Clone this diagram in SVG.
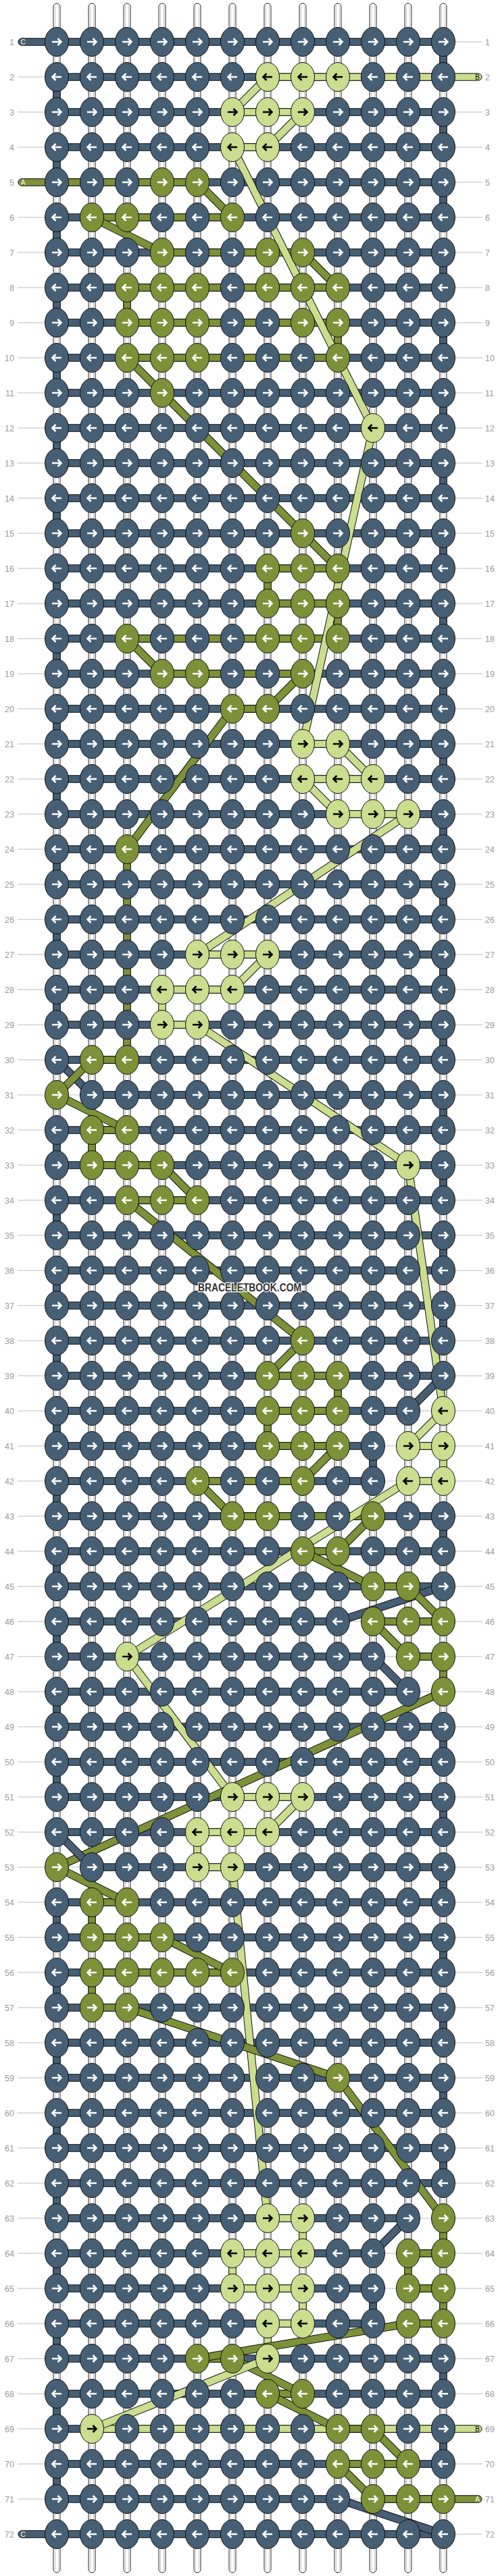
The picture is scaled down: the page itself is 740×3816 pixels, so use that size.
<svg xmlns="http://www.w3.org/2000/svg" xmlns:xlink="http://www.w3.org/1999/xlink" width="740" height="3816" viewBox="0 0 740 3816">
<style>
.gl{stroke:#bdbdbd;stroke-width:1;fill:none}
.lb{font-family:"Liberation Sans",Arial,sans-serif;font-size:12.5px;fill:#9a9a9a}
.le{text-anchor:end}
.cap{font-family:"Liberation Sans",Arial,sans-serif;font-size:10px;text-anchor:middle}
.wt{fill:#fff;stroke:#222;stroke-width:1}
.wi{stroke:#c4c4c4;stroke-width:1;fill:none}
.bd{fill:#465f75;stroke:#111;stroke-width:1}
.ba{fill:#7d9138;stroke:#111;stroke-width:1}
.bb{fill:#cbdd8e;stroke:#111;stroke-width:1}
.e{fill:#fff}
.o{stroke:#111;stroke-width:12;fill:none}
.cd{stroke:#465f75;stroke-width:10;fill:none}
.ca{stroke:#7d9138;stroke-width:10;fill:none}
.cb{stroke:#cbdd8e;stroke-width:10;fill:none}
.w{fill:none;stroke:#fff;stroke-width:2.6}
.k{fill:none;stroke:#000;stroke-width:2.6}
.wm{font-family:"Liberation Sans",Arial,sans-serif;font-weight:bold;font-size:16px;fill:#333;stroke:#fff;stroke-width:2.5;paint-order:stroke;text-anchor:middle}
</style>
<defs>
<rect id="bar" x="84" y="-5.25" width="572" height="10.5" class="bd"/>
<path id="arR" d="M-7,0H6M1.5,-5L6.5,0L1.5,5"/>
<path id="arL" d="M7,0H-6M-1.5,-5L-6.5,0L-1.5,5"/>
<g id="dR"><ellipse rx="17.5" ry="21.5" class="bd"/><use href="#arR" class="w"/></g>
<g id="dL"><ellipse rx="17.5" ry="21.5" class="bd"/><use href="#arL" class="w"/></g>
<g id="aR"><ellipse rx="17.5" ry="21.5" class="ba"/><use href="#arR" class="w"/></g>
<g id="aL"><ellipse rx="17.5" ry="21.5" class="ba"/><use href="#arL" class="w"/></g>
<g id="bR"><ellipse rx="17.5" ry="21.5" class="bb"/><use href="#arR" class="k"/></g>
<g id="bL"><ellipse rx="17.5" ry="21.5" class="bb"/><use href="#arL" class="k"/></g>
</defs>
<rect width="740" height="3816" fill="#fff"/>
<g id="guides">
<path class="gl" d="M26,62H714M26,114H714M26,166H714M26,218H714M26,270H714M26,322H714M26,374H714M26,426H714M26,478H714M26,530H714M26,582H714M26,634H714M26,686H714M26,738H714M26,790H714M26,842H714M26,894H714M26,946H714M26,998H714M26,1050H714M26,1102H714M26,1154H714M26,1206H714M26,1258H714M26,1310H714M26,1362H714M26,1414H714M26,1466H714M26,1518H714M26,1570H714M26,1622H714M26,1674H714M26,1726H714M26,1778H714M26,1830H714M26,1882H714M26,1934H714M26,1986H714M26,2038H714M26,2090H714M26,2142H714M26,2194H714M26,2246H714M26,2298H714M26,2350H714M26,2402H714M26,2454H714M26,2506H714M26,2558H714M26,2610H714M26,2662H714M26,2714H714M26,2766H714M26,2818H714M26,2870H714M26,2922H714M26,2974H714M26,3026H714M26,3078H714M26,3130H714M26,3182H714M26,3234H714M26,3286H714M26,3338H714M26,3390H714M26,3442H714M26,3494H714M26,3546H714M26,3598H714M26,3650H714M26,3702H714M26,3754H714"/>
</g>
<g id="labels" class="lb">
<text x="21" y="66.5" class="le">1</text><text x="718" y="66.5">1</text>
<text x="21" y="118.5" class="le">2</text><text x="718" y="118.5">2</text>
<text x="21" y="170.5" class="le">3</text><text x="718" y="170.5">3</text>
<text x="21" y="222.5" class="le">4</text><text x="718" y="222.5">4</text>
<text x="21" y="274.5" class="le">5</text><text x="718" y="274.5">5</text>
<text x="21" y="326.5" class="le">6</text><text x="718" y="326.5">6</text>
<text x="21" y="378.5" class="le">7</text><text x="718" y="378.5">7</text>
<text x="21" y="430.5" class="le">8</text><text x="718" y="430.5">8</text>
<text x="21" y="482.5" class="le">9</text><text x="718" y="482.5">9</text>
<text x="21" y="534.5" class="le">10</text><text x="718" y="534.5">10</text>
<text x="21" y="586.5" class="le">11</text><text x="718" y="586.5">11</text>
<text x="21" y="638.5" class="le">12</text><text x="718" y="638.5">12</text>
<text x="21" y="690.5" class="le">13</text><text x="718" y="690.5">13</text>
<text x="21" y="742.5" class="le">14</text><text x="718" y="742.5">14</text>
<text x="21" y="794.5" class="le">15</text><text x="718" y="794.5">15</text>
<text x="21" y="846.5" class="le">16</text><text x="718" y="846.5">16</text>
<text x="21" y="898.5" class="le">17</text><text x="718" y="898.5">17</text>
<text x="21" y="950.5" class="le">18</text><text x="718" y="950.5">18</text>
<text x="21" y="1002.5" class="le">19</text><text x="718" y="1002.5">19</text>
<text x="21" y="1054.5" class="le">20</text><text x="718" y="1054.5">20</text>
<text x="21" y="1106.5" class="le">21</text><text x="718" y="1106.5">21</text>
<text x="21" y="1158.5" class="le">22</text><text x="718" y="1158.5">22</text>
<text x="21" y="1210.5" class="le">23</text><text x="718" y="1210.5">23</text>
<text x="21" y="1262.5" class="le">24</text><text x="718" y="1262.5">24</text>
<text x="21" y="1314.5" class="le">25</text><text x="718" y="1314.5">25</text>
<text x="21" y="1366.5" class="le">26</text><text x="718" y="1366.5">26</text>
<text x="21" y="1418.5" class="le">27</text><text x="718" y="1418.5">27</text>
<text x="21" y="1470.5" class="le">28</text><text x="718" y="1470.5">28</text>
<text x="21" y="1522.5" class="le">29</text><text x="718" y="1522.5">29</text>
<text x="21" y="1574.5" class="le">30</text><text x="718" y="1574.5">30</text>
<text x="21" y="1626.5" class="le">31</text><text x="718" y="1626.5">31</text>
<text x="21" y="1678.5" class="le">32</text><text x="718" y="1678.5">32</text>
<text x="21" y="1730.5" class="le">33</text><text x="718" y="1730.5">33</text>
<text x="21" y="1782.5" class="le">34</text><text x="718" y="1782.5">34</text>
<text x="21" y="1834.5" class="le">35</text><text x="718" y="1834.5">35</text>
<text x="21" y="1886.5" class="le">36</text><text x="718" y="1886.5">36</text>
<text x="21" y="1938.5" class="le">37</text><text x="718" y="1938.5">37</text>
<text x="21" y="1990.5" class="le">38</text><text x="718" y="1990.5">38</text>
<text x="21" y="2042.5" class="le">39</text><text x="718" y="2042.5">39</text>
<text x="21" y="2094.5" class="le">40</text><text x="718" y="2094.5">40</text>
<text x="21" y="2146.5" class="le">41</text><text x="718" y="2146.5">41</text>
<text x="21" y="2198.5" class="le">42</text><text x="718" y="2198.5">42</text>
<text x="21" y="2250.5" class="le">43</text><text x="718" y="2250.5">43</text>
<text x="21" y="2302.5" class="le">44</text><text x="718" y="2302.5">44</text>
<text x="21" y="2354.5" class="le">45</text><text x="718" y="2354.5">45</text>
<text x="21" y="2406.5" class="le">46</text><text x="718" y="2406.5">46</text>
<text x="21" y="2458.5" class="le">47</text><text x="718" y="2458.5">47</text>
<text x="21" y="2510.5" class="le">48</text><text x="718" y="2510.5">48</text>
<text x="21" y="2562.5" class="le">49</text><text x="718" y="2562.5">49</text>
<text x="21" y="2614.5" class="le">50</text><text x="718" y="2614.5">50</text>
<text x="21" y="2666.5" class="le">51</text><text x="718" y="2666.5">51</text>
<text x="21" y="2718.5" class="le">52</text><text x="718" y="2718.5">52</text>
<text x="21" y="2770.5" class="le">53</text><text x="718" y="2770.5">53</text>
<text x="21" y="2822.5" class="le">54</text><text x="718" y="2822.5">54</text>
<text x="21" y="2874.5" class="le">55</text><text x="718" y="2874.5">55</text>
<text x="21" y="2926.5" class="le">56</text><text x="718" y="2926.5">56</text>
<text x="21" y="2978.5" class="le">57</text><text x="718" y="2978.5">57</text>
<text x="21" y="3030.5" class="le">58</text><text x="718" y="3030.5">58</text>
<text x="21" y="3082.5" class="le">59</text><text x="718" y="3082.5">59</text>
<text x="21" y="3134.5" class="le">60</text><text x="718" y="3134.5">60</text>
<text x="21" y="3186.5" class="le">61</text><text x="718" y="3186.5">61</text>
<text x="21" y="3238.5" class="le">62</text><text x="718" y="3238.5">62</text>
<text x="21" y="3290.5" class="le">63</text><text x="718" y="3290.5">63</text>
<text x="21" y="3342.5" class="le">64</text><text x="718" y="3342.5">64</text>
<text x="21" y="3394.5" class="le">65</text><text x="718" y="3394.5">65</text>
<text x="21" y="3446.5" class="le">66</text><text x="718" y="3446.5">66</text>
<text x="21" y="3498.5" class="le">67</text><text x="718" y="3498.5">67</text>
<text x="21" y="3550.5" class="le">68</text><text x="718" y="3550.5">68</text>
<text x="21" y="3602.5" class="le">69</text><text x="718" y="3602.5">69</text>
<text x="21" y="3654.5" class="le">70</text><text x="718" y="3654.5">70</text>
<text x="21" y="3706.5" class="le">71</text><text x="718" y="3706.5">71</text>
<text x="21" y="3758.5" class="le">72</text><text x="718" y="3758.5">72</text>
</g>
<g id="warps">
<rect x="79" y="5" width="10" height="3806" rx="5" class="wt"/><rect x="131" y="5" width="10" height="3806" rx="5" class="wt"/><rect x="183" y="5" width="10" height="3806" rx="5" class="wt"/><rect x="235" y="5" width="10" height="3806" rx="5" class="wt"/><rect x="287" y="5" width="10" height="3806" rx="5" class="wt"/><rect x="339" y="5" width="10" height="3806" rx="5" class="wt"/><rect x="391" y="5" width="10" height="3806" rx="5" class="wt"/><rect x="443" y="5" width="10" height="3806" rx="5" class="wt"/><rect x="495" y="5" width="10" height="3806" rx="5" class="wt"/><rect x="547" y="5" width="10" height="3806" rx="5" class="wt"/><rect x="599" y="5" width="10" height="3806" rx="5" class="wt"/><rect x="651" y="5" width="10" height="3806" rx="5" class="wt"/>
<path class="wi" d="M81.5,9V3807M86.5,9V3807M133.5,9V3807M138.5,9V3807M185.5,9V3807M190.5,9V3807M237.5,9V3807M242.5,9V3807M289.5,9V3807M294.5,9V3807M341.5,9V3807M346.5,9V3807M393.5,9V3807M398.5,9V3807M445.5,9V3807M450.5,9V3807M497.5,9V3807M502.5,9V3807M549.5,9V3807M554.5,9V3807M601.5,9V3807M606.5,9V3807M653.5,9V3807M658.5,9V3807"/>
</g>
<g id="vblocks">
<path class="bd" d="M650.75,62h10.5v52h-10.5zM650.75,166h10.5v52h-10.5zM650.75,270h10.5v52h-10.5zM650.75,374h10.5v52h-10.5zM650.75,478h10.5v52h-10.5zM650.75,582h10.5v52h-10.5zM650.75,686h10.5v52h-10.5zM650.75,790h10.5v52h-10.5zM650.75,894h10.5v52h-10.5zM650.75,998h10.5v52h-10.5zM650.75,1102h10.5v52h-10.5zM650.75,1206h10.5v52h-10.5zM650.75,1310h10.5v52h-10.5zM650.75,1414h10.5v52h-10.5zM650.75,1518h10.5v52h-10.5zM650.75,1622h10.5v52h-10.5zM650.75,1726h10.5v52h-10.5zM650.75,1830h10.5v52h-10.5zM650.75,1934h10.5v52h-10.5zM650.75,2246h10.5v52h-10.5zM650.75,2558h10.5v52h-10.5zM650.75,2662h10.5v52h-10.5zM650.75,2766h10.5v52h-10.5zM650.75,2870h10.5v52h-10.5zM650.75,2974h10.5v52h-10.5zM650.75,3078h10.5v52h-10.5zM650.75,3182h10.5v52h-10.5zM650.75,3494h10.5v52h-10.5zM650.75,3598h10.5v52h-10.5z"/>
<path class="bd" d="M78.75,114h10.5v52h-10.5zM78.75,218h10.5v52h-10.5zM78.75,322h10.5v52h-10.5zM78.75,426h10.5v52h-10.5zM78.75,530h10.5v52h-10.5zM78.75,634h10.5v52h-10.5zM78.75,738h10.5v52h-10.5zM78.75,842h10.5v52h-10.5zM78.75,946h10.5v52h-10.5zM78.75,1050h10.5v52h-10.5zM78.75,1154h10.5v52h-10.5zM78.75,1258h10.5v52h-10.5zM78.75,1362h10.5v52h-10.5zM78.75,1466h10.5v52h-10.5zM78.75,1674h10.5v52h-10.5zM78.75,1778h10.5v52h-10.5zM78.75,1882h10.5v52h-10.5zM78.75,1986h10.5v52h-10.5zM78.75,2090h10.5v52h-10.5zM78.75,2194h10.5v52h-10.5zM78.75,2298h10.5v52h-10.5zM78.75,2402h10.5v52h-10.5zM78.75,2506h10.5v52h-10.5zM78.75,2610h10.5v52h-10.5zM78.75,2818h10.5v52h-10.5zM78.75,2922h10.5v52h-10.5zM78.75,3026h10.5v52h-10.5zM78.75,3130h10.5v52h-10.5zM78.75,3234h10.5v52h-10.5zM78.75,3338h10.5v52h-10.5zM78.75,3442h10.5v52h-10.5zM78.75,3546h10.5v52h-10.5zM78.75,3650h10.5v52h-10.5zM546.75,2142h10.5v52h-10.5zM546.75,3390h10.5v52h-10.5z"/>
<path class="ba" d="M182.75,426h10.5v52h-10.5zM182.75,1258h10.5v312h-10.5zM494.75,478h10.5v52h-10.5zM494.75,894h10.5v52h-10.5zM494.75,2038h10.5v52h-10.5zM390.75,842h10.5v52h-10.5zM390.75,2090h10.5v52h-10.5zM130.75,1674h10.5v52h-10.5zM650.75,2454h10.5v52h-10.5zM130.75,2818h10.5v52h-10.5zM130.75,2922h10.5v52h-10.5zM650.75,3286h10.5v52h-10.5zM598.75,3338h10.5v52h-10.5zM650.75,3390h10.5v52h-10.5z"/>
<path class="bb" d="M234.75,1466h10.5v52h-10.5zM650.75,2142h10.5v52h-10.5zM286.75,2714h10.5v52h-10.5zM442.75,3286h10.5v52h-10.5zM338.75,3338h10.5v52h-10.5zM442.75,3390h10.5v52h-10.5zM390.75,3442h10.5v52h-10.5z"/>
</g>
<g id="bars">
<use href="#bar" y="62"/><use href="#bar" y="114"/><use href="#bar" y="166"/><use href="#bar" y="218"/><use href="#bar" y="270"/><use href="#bar" y="322"/><use href="#bar" y="374"/><use href="#bar" y="426"/><use href="#bar" y="478"/><use href="#bar" y="530"/><use href="#bar" y="582"/><use href="#bar" y="634"/><use href="#bar" y="686"/><use href="#bar" y="738"/><use href="#bar" y="790"/><use href="#bar" y="842"/><use href="#bar" y="894"/><use href="#bar" y="946"/><use href="#bar" y="998"/><use href="#bar" y="1050"/><use href="#bar" y="1102"/><use href="#bar" y="1154"/><use href="#bar" y="1206"/><use href="#bar" y="1258"/><use href="#bar" y="1310"/><use href="#bar" y="1362"/><use href="#bar" y="1414"/><use href="#bar" y="1466"/><use href="#bar" y="1518"/><use href="#bar" y="1570"/><use href="#bar" y="1622"/><use href="#bar" y="1674"/><use href="#bar" y="1726"/><use href="#bar" y="1778"/><use href="#bar" y="1830"/><use href="#bar" y="1882"/><use href="#bar" y="1934"/><use href="#bar" y="1986"/><use href="#bar" y="2038"/><use href="#bar" y="2090"/><use href="#bar" y="2142"/><use href="#bar" y="2194"/><use href="#bar" y="2246"/><use href="#bar" y="2298"/><use href="#bar" y="2350"/><use href="#bar" y="2402"/><use href="#bar" y="2454"/><use href="#bar" y="2506"/><use href="#bar" y="2558"/><use href="#bar" y="2610"/><use href="#bar" y="2662"/><use href="#bar" y="2714"/><use href="#bar" y="2766"/><use href="#bar" y="2818"/><use href="#bar" y="2870"/><use href="#bar" y="2922"/><use href="#bar" y="2974"/><use href="#bar" y="3026"/><use href="#bar" y="3078"/><use href="#bar" y="3130"/><use href="#bar" y="3182"/><use href="#bar" y="3234"/><use href="#bar" y="3286"/><use href="#bar" y="3338"/><use href="#bar" y="3390"/><use href="#bar" y="3442"/><use href="#bar" y="3494"/><use href="#bar" y="3546"/><use href="#bar" y="3598"/><use href="#bar" y="3650"/><use href="#bar" y="3702"/><use href="#bar" y="3754"/>
<rect x="27" y="56.75" width="62" height="10.5" rx="5.25" class="bd"/>
<rect x="396" y="108.75" width="317" height="10.5" rx="5.25" class="bb"/>
<rect x="344" y="160.75" width="104" height="10.5" class="bb"/>
<rect x="344" y="212.75" width="52" height="10.5" class="bb"/>
<rect x="27" y="264.75" width="265" height="10.5" rx="5.25" class="ba"/>
<rect x="136" y="316.75" width="208" height="10.5" class="ba"/>
<rect x="240" y="368.75" width="208" height="10.5" class="ba"/>
<rect x="188" y="420.75" width="312" height="10.5" class="ba"/>
<rect x="188" y="472.75" width="312" height="10.5" class="ba"/>
<rect x="188" y="524.75" width="312" height="10.5" class="ba"/>
<rect x="396" y="836.75" width="104" height="10.5" class="ba"/>
<rect x="396" y="888.75" width="104" height="10.5" class="ba"/>
<rect x="188" y="940.75" width="312" height="10.5" class="ba"/>
<rect x="240" y="992.75" width="208" height="10.5" class="ba"/>
<rect x="344" y="1044.75" width="52" height="10.5" class="ba"/>
<rect x="448" y="1096.75" width="52" height="10.5" class="bb"/>
<rect x="448" y="1148.75" width="104" height="10.5" class="bb"/>
<rect x="500" y="1200.75" width="104" height="10.5" class="bb"/>
<rect x="292" y="1408.75" width="104" height="10.5" class="bb"/>
<rect x="240" y="1460.75" width="104" height="10.5" class="bb"/>
<rect x="240" y="1512.75" width="52" height="10.5" class="bb"/>
<rect x="136" y="1564.75" width="52" height="10.5" class="ba"/>
<rect x="84" y="1616" width="52" height="12" class="e"/><path class="gl" d="M84,1622H136"/>
<rect x="136" y="1668.75" width="52" height="10.5" class="ba"/>
<rect x="136" y="1720.75" width="104" height="10.5" class="ba"/>
<rect x="188" y="1772.75" width="104" height="10.5" class="ba"/>
<rect x="396" y="2032.75" width="104" height="10.5" class="ba"/>
<rect x="396" y="2084.75" width="104" height="10.5" class="ba"/>
<rect x="604" y="2084" width="52" height="12" class="e"/><path class="gl" d="M604,2090H656"/>
<rect x="396" y="2136.75" width="104" height="10.5" class="ba"/>
<rect x="552" y="2136" width="52" height="12" class="e"/><path class="gl" d="M552,2142H604"/>
<rect x="604" y="2136.75" width="52" height="10.5" class="bb"/>
<rect x="292" y="2188.75" width="156" height="10.5" class="ba"/>
<rect x="552" y="2188" width="52" height="12" class="e"/><path class="gl" d="M552,2194H604"/>
<rect x="604" y="2188.75" width="52" height="10.5" class="bb"/>
<rect x="344" y="2240.75" width="208" height="10.5" class="ba"/>
<rect x="448" y="2292.75" width="52" height="10.5" class="ba"/>
<rect x="552" y="2344.75" width="52" height="10.5" class="ba"/>
<rect x="500" y="2396" width="52" height="12" class="e"/><path class="gl" d="M500,2402H552"/>
<rect x="552" y="2396.75" width="104" height="10.5" class="ba"/>
<rect x="552" y="2448" width="52" height="12" class="e"/><path class="gl" d="M552,2454H604"/>
<rect x="604" y="2448.75" width="52" height="10.5" class="ba"/>
<rect x="604" y="2500" width="52" height="12" class="e"/><path class="gl" d="M604,2506H656"/>
<rect x="344" y="2656.75" width="104" height="10.5" class="bb"/>
<rect x="292" y="2708.75" width="104" height="10.5" class="bb"/>
<rect x="84" y="2760" width="52" height="12" class="e"/><path class="gl" d="M84,2766H136"/>
<rect x="292" y="2760.75" width="52" height="10.5" class="bb"/>
<rect x="136" y="2812.75" width="52" height="10.5" class="ba"/>
<rect x="136" y="2864.75" width="104" height="10.5" class="ba"/>
<rect x="136" y="2916.75" width="208" height="10.5" class="ba"/>
<rect x="136" y="2968.75" width="52" height="10.5" class="ba"/>
<rect x="396" y="3280.75" width="52" height="10.5" class="bb"/>
<rect x="604" y="3280" width="52" height="12" class="e"/><path class="gl" d="M604,3286H656"/>
<rect x="344" y="3332.75" width="104" height="10.5" class="bb"/>
<rect x="552" y="3332" width="52" height="12" class="e"/><path class="gl" d="M552,3338H604"/>
<rect x="604" y="3332.75" width="52" height="10.5" class="ba"/>
<rect x="344" y="3384.75" width="104" height="10.5" class="bb"/>
<rect x="552" y="3384" width="52" height="12" class="e"/><path class="gl" d="M552,3390H604"/>
<rect x="604" y="3384.75" width="52" height="10.5" class="ba"/>
<rect x="396" y="3436.75" width="52" height="10.5" class="bb"/>
<rect x="552" y="3436" width="52" height="12" class="e"/><path class="gl" d="M552,3442H604"/>
<rect x="604" y="3436.75" width="52" height="10.5" class="ba"/>
<rect x="292" y="3488.75" width="52" height="10.5" class="ba"/>
<rect x="396" y="3540.75" width="52" height="10.5" class="ba"/>
<rect x="136" y="3592.75" width="577" height="10.5" rx="5.25" class="bb"/>
<rect x="500" y="3592.75" width="52" height="10.5" class="ba"/>
<rect x="500" y="3644.75" width="104" height="10.5" class="ba"/>
<rect x="500" y="3696" width="52" height="12" class="e"/><path class="gl" d="M500,3702H552"/>
<rect x="552" y="3696.75" width="161" height="10.5" rx="5.25" class="ba"/>
<rect x="27" y="3748.75" width="62" height="10.5" rx="5.25" class="bd"/>
<text x="34" y="65.6" class="cap" fill="#fff">C</text>
<text x="706.5" y="117.6" class="cap" fill="#000">B</text>
<text x="34" y="273.6" class="cap" fill="#fff">A</text>
<text x="706.5" y="3601.6" class="cap" fill="#000">B</text>
<text x="706.5" y="3705.6" class="cap" fill="#fff">A</text>
<text x="34" y="3757.6" class="cap" fill="#fff">C</text>
</g>
<g id="connectors">
<path class="o" d="M396,114L344,166"/><path class="cb" d="M396,114L344,166"/>
<path class="o" d="M448,166L396,218"/><path class="cb" d="M448,166L396,218"/>
<path class="o" d="M344,218L552,634"/><path class="cb" d="M344,218L552,634"/>
<path class="o" d="M292,270L344,322"/><path class="ca" d="M292,270L344,322"/>
<path class="o" d="M136,322L240,374"/><path class="ca" d="M136,322L240,374"/>
<path class="o" d="M448,374L500,426"/><path class="ca" d="M448,374L500,426"/>
<path class="o" d="M188,530L240,582"/><path class="ca" d="M188,530L240,582"/>
<path class="o" d="M240,582L448,790"/><path class="ca" d="M240,582L448,790"/>
<path class="o" d="M448,790L500,842"/><path class="ca" d="M448,790L500,842"/>
<path class="o" d="M552,634L448,1102"/><path class="cb" d="M552,634L448,1102"/>
<path class="o" d="M188,946L240,998"/><path class="ca" d="M188,946L240,998"/>
<path class="o" d="M448,998L396,1050"/><path class="ca" d="M448,998L396,1050"/>
<path class="o" d="M344,1050L188,1258"/><path class="ca" d="M344,1050L188,1258"/>
<path class="o" d="M500,1102L552,1154"/><path class="cb" d="M500,1102L552,1154"/>
<path class="o" d="M448,1154L500,1206"/><path class="cb" d="M448,1154L500,1206"/>
<path class="o" d="M604,1206L292,1414"/><path class="cb" d="M604,1206L292,1414"/>
<path class="o" d="M396,1414L344,1466"/><path class="cb" d="M396,1414L344,1466"/>
<path class="o" d="M292,1518L604,1726"/><path class="cb" d="M292,1518L604,1726"/>
<path class="o" d="M84,1570L136,1622"/><path class="cd" d="M84,1570L136,1622"/>
<path class="o" d="M136,1570L84,1622"/><path class="ca" d="M136,1570L84,1622"/>
<path class="o" d="M84,1622L188,1674"/><path class="ca" d="M84,1622L188,1674"/>
<path class="o" d="M240,1726L292,1778"/><path class="ca" d="M240,1726L292,1778"/>
<path class="o" d="M604,1726L656,2090"/><path class="cb" d="M604,1726L656,2090"/>
<path class="o" d="M188,1778L448,1986"/><path class="ca" d="M188,1778L448,1986"/>
<path class="o" d="M448,1986L396,2038"/><path class="ca" d="M448,1986L396,2038"/>
<path class="o" d="M656,2038L604,2090"/><path class="cd" d="M656,2038L604,2090"/>
<path class="o" d="M656,2090L604,2142"/><path class="cb" d="M656,2090L604,2142"/>
<path class="o" d="M500,2142L448,2194"/><path class="ca" d="M500,2142L448,2194"/>
<path class="o" d="M292,2194L344,2246"/><path class="ca" d="M292,2194L344,2246"/>
<path class="o" d="M552,2246L500,2298"/><path class="ca" d="M552,2246L500,2298"/>
<path class="o" d="M604,2194L188,2454"/><path class="cb" d="M604,2194L188,2454"/>
<path class="o" d="M448,2298L552,2350"/><path class="ca" d="M448,2298L552,2350"/>
<path class="o" d="M656,2350L500,2402"/><path class="cd" d="M656,2350L500,2402"/>
<path class="o" d="M604,2350L656,2402"/><path class="ca" d="M604,2350L656,2402"/>
<path class="o" d="M552,2402L604,2454"/><path class="ca" d="M552,2402L604,2454"/>
<path class="o" d="M552,2454L604,2506"/><path class="cd" d="M552,2454L604,2506"/>
<path class="o" d="M188,2454L344,2662"/><path class="cb" d="M188,2454L344,2662"/>
<path class="o" d="M656,2506L84,2766"/><path class="ca" d="M656,2506L84,2766"/>
<path class="o" d="M448,2662L396,2714"/><path class="cb" d="M448,2662L396,2714"/>
<path class="o" d="M84,2714L136,2766"/><path class="cd" d="M84,2714L136,2766"/>
<path class="o" d="M84,2766L188,2818"/><path class="ca" d="M84,2766L188,2818"/>
<path class="o" d="M344,2766L396,3286"/><path class="cb" d="M344,2766L396,3286"/>
<path class="o" d="M240,2870L344,2922"/><path class="ca" d="M240,2870L344,2922"/>
<path class="o" d="M188,2974L500,3078"/><path class="ca" d="M188,2974L500,3078"/>
<path class="o" d="M500,3078L656,3286"/><path class="ca" d="M500,3078L656,3286"/>
<path class="o" d="M604,3286L552,3338"/><path class="cd" d="M604,3286L552,3338"/>
<path class="o" d="M604,3442L292,3494"/><path class="ca" d="M604,3442L292,3494"/>
<path class="o" d="M344,3494L448,3546"/><path class="ca" d="M344,3494L448,3546"/>
<path class="o" d="M396,3494L136,3598"/><path class="cb" d="M396,3494L136,3598"/>
<path class="o" d="M396,3546L500,3598"/><path class="ca" d="M396,3546L500,3598"/>
<path class="o" d="M552,3598L604,3650"/><path class="ca" d="M552,3598L604,3650"/>
<path class="o" d="M500,3650L552,3702"/><path class="ca" d="M500,3650L552,3702"/>
<path class="o" d="M500,3702L656,3754"/><path class="cd" d="M500,3702L656,3754"/>
</g>
<g id="knots">
<g id="row1" transform="translate(0,62)"><use id="k1-1" href="#dR" x="84"/><use id="k1-2" href="#dR" x="136"/><use id="k1-3" href="#dR" x="188"/><use id="k1-4" href="#dR" x="240"/><use id="k1-5" href="#dR" x="292"/><use id="k1-6" href="#dR" x="344"/><use id="k1-7" href="#dR" x="396"/><use id="k1-8" href="#dR" x="448"/><use id="k1-9" href="#dR" x="500"/><use id="k1-10" href="#dR" x="552"/><use id="k1-11" href="#dR" x="604"/><use id="k1-12" href="#dR" x="656"/></g>
<g id="row2" transform="translate(0,114)"><use id="k2-1" href="#dL" x="84"/><use id="k2-2" href="#dL" x="136"/><use id="k2-3" href="#dL" x="188"/><use id="k2-4" href="#dL" x="240"/><use id="k2-5" href="#dL" x="292"/><use id="k2-6" href="#dL" x="344"/><use id="k2-7" href="#bL" x="396"/><use id="k2-8" href="#bL" x="448"/><use id="k2-9" href="#bL" x="500"/><use id="k2-10" href="#dL" x="552"/><use id="k2-11" href="#dL" x="604"/><use id="k2-12" href="#dL" x="656"/></g>
<g id="row3" transform="translate(0,166)"><use id="k3-1" href="#dR" x="84"/><use id="k3-2" href="#dR" x="136"/><use id="k3-3" href="#dR" x="188"/><use id="k3-4" href="#dR" x="240"/><use id="k3-5" href="#dR" x="292"/><use id="k3-6" href="#bR" x="344"/><use id="k3-7" href="#bR" x="396"/><use id="k3-8" href="#bR" x="448"/><use id="k3-9" href="#dR" x="500"/><use id="k3-10" href="#dR" x="552"/><use id="k3-11" href="#dR" x="604"/><use id="k3-12" href="#dR" x="656"/></g>
<g id="row4" transform="translate(0,218)"><use id="k4-1" href="#dL" x="84"/><use id="k4-2" href="#dL" x="136"/><use id="k4-3" href="#dL" x="188"/><use id="k4-4" href="#dL" x="240"/><use id="k4-5" href="#dL" x="292"/><use id="k4-6" href="#bL" x="344"/><use id="k4-7" href="#bL" x="396"/><use id="k4-8" href="#dL" x="448"/><use id="k4-9" href="#dL" x="500"/><use id="k4-10" href="#dL" x="552"/><use id="k4-11" href="#dL" x="604"/><use id="k4-12" href="#dL" x="656"/></g>
<g id="row5" transform="translate(0,270)"><use id="k5-1" href="#dR" x="84"/><use id="k5-2" href="#dR" x="136"/><use id="k5-3" href="#dR" x="188"/><use id="k5-4" href="#aR" x="240"/><use id="k5-5" href="#aR" x="292"/><use id="k5-6" href="#dR" x="344"/><use id="k5-7" href="#dR" x="396"/><use id="k5-8" href="#dR" x="448"/><use id="k5-9" href="#dR" x="500"/><use id="k5-10" href="#dR" x="552"/><use id="k5-11" href="#dR" x="604"/><use id="k5-12" href="#dR" x="656"/></g>
<g id="row6" transform="translate(0,322)"><use id="k6-1" href="#dL" x="84"/><use id="k6-2" href="#aL" x="136"/><use id="k6-3" href="#aL" x="188"/><use id="k6-4" href="#dL" x="240"/><use id="k6-5" href="#dL" x="292"/><use id="k6-6" href="#aL" x="344"/><use id="k6-7" href="#dL" x="396"/><use id="k6-8" href="#dL" x="448"/><use id="k6-9" href="#dL" x="500"/><use id="k6-10" href="#dL" x="552"/><use id="k6-11" href="#dL" x="604"/><use id="k6-12" href="#dL" x="656"/></g>
<g id="row7" transform="translate(0,374)"><use id="k7-1" href="#dR" x="84"/><use id="k7-2" href="#dR" x="136"/><use id="k7-3" href="#dR" x="188"/><use id="k7-4" href="#aR" x="240"/><use id="k7-5" href="#dR" x="292"/><use id="k7-6" href="#dR" x="344"/><use id="k7-7" href="#aR" x="396"/><use id="k7-8" href="#aR" x="448"/><use id="k7-9" href="#dR" x="500"/><use id="k7-10" href="#dR" x="552"/><use id="k7-11" href="#dR" x="604"/><use id="k7-12" href="#dR" x="656"/></g>
<g id="row8" transform="translate(0,426)"><use id="k8-1" href="#dL" x="84"/><use id="k8-2" href="#dL" x="136"/><use id="k8-3" href="#aL" x="188"/><use id="k8-4" href="#aL" x="240"/><use id="k8-5" href="#aL" x="292"/><use id="k8-6" href="#dL" x="344"/><use id="k8-7" href="#aL" x="396"/><use id="k8-8" href="#aL" x="448"/><use id="k8-9" href="#aL" x="500"/><use id="k8-10" href="#dL" x="552"/><use id="k8-11" href="#dL" x="604"/><use id="k8-12" href="#dL" x="656"/></g>
<g id="row9" transform="translate(0,478)"><use id="k9-1" href="#dR" x="84"/><use id="k9-2" href="#dR" x="136"/><use id="k9-3" href="#aR" x="188"/><use id="k9-4" href="#aR" x="240"/><use id="k9-5" href="#aR" x="292"/><use id="k9-6" href="#dR" x="344"/><use id="k9-7" href="#dR" x="396"/><use id="k9-8" href="#aR" x="448"/><use id="k9-9" href="#aR" x="500"/><use id="k9-10" href="#dR" x="552"/><use id="k9-11" href="#dR" x="604"/><use id="k9-12" href="#dR" x="656"/></g>
<g id="row10" transform="translate(0,530)"><use id="k10-1" href="#dL" x="84"/><use id="k10-2" href="#dL" x="136"/><use id="k10-3" href="#aL" x="188"/><use id="k10-4" href="#aL" x="240"/><use id="k10-5" href="#aL" x="292"/><use id="k10-6" href="#dL" x="344"/><use id="k10-7" href="#dL" x="396"/><use id="k10-8" href="#dL" x="448"/><use id="k10-9" href="#aL" x="500"/><use id="k10-10" href="#dL" x="552"/><use id="k10-11" href="#dL" x="604"/><use id="k10-12" href="#dL" x="656"/></g>
<g id="row11" transform="translate(0,582)"><use id="k11-1" href="#dR" x="84"/><use id="k11-2" href="#dR" x="136"/><use id="k11-3" href="#dR" x="188"/><use id="k11-4" href="#aR" x="240"/><use id="k11-5" href="#dR" x="292"/><use id="k11-6" href="#dR" x="344"/><use id="k11-7" href="#dR" x="396"/><use id="k11-8" href="#dR" x="448"/><use id="k11-9" href="#dR" x="500"/><use id="k11-10" href="#dR" x="552"/><use id="k11-11" href="#dR" x="604"/><use id="k11-12" href="#dR" x="656"/></g>
<g id="row12" transform="translate(0,634)"><use id="k12-1" href="#dL" x="84"/><use id="k12-2" href="#dL" x="136"/><use id="k12-3" href="#dL" x="188"/><use id="k12-4" href="#dL" x="240"/><use id="k12-5" href="#dL" x="292"/><use id="k12-6" href="#dL" x="344"/><use id="k12-7" href="#dL" x="396"/><use id="k12-8" href="#dL" x="448"/><use id="k12-9" href="#dL" x="500"/><use id="k12-10" href="#bL" x="552"/><use id="k12-11" href="#dL" x="604"/><use id="k12-12" href="#dL" x="656"/></g>
<g id="row13" transform="translate(0,686)"><use id="k13-1" href="#dR" x="84"/><use id="k13-2" href="#dR" x="136"/><use id="k13-3" href="#dR" x="188"/><use id="k13-4" href="#dR" x="240"/><use id="k13-5" href="#dR" x="292"/><use id="k13-6" href="#dR" x="344"/><use id="k13-7" href="#dR" x="396"/><use id="k13-8" href="#dR" x="448"/><use id="k13-9" href="#dR" x="500"/><use id="k13-10" href="#dR" x="552"/><use id="k13-11" href="#dR" x="604"/><use id="k13-12" href="#dR" x="656"/></g>
<g id="row14" transform="translate(0,738)"><use id="k14-1" href="#dL" x="84"/><use id="k14-2" href="#dL" x="136"/><use id="k14-3" href="#dL" x="188"/><use id="k14-4" href="#dL" x="240"/><use id="k14-5" href="#dL" x="292"/><use id="k14-6" href="#dL" x="344"/><use id="k14-7" href="#dL" x="396"/><use id="k14-8" href="#dL" x="448"/><use id="k14-9" href="#dL" x="500"/><use id="k14-10" href="#dL" x="552"/><use id="k14-11" href="#dL" x="604"/><use id="k14-12" href="#dL" x="656"/></g>
<g id="row15" transform="translate(0,790)"><use id="k15-1" href="#dR" x="84"/><use id="k15-2" href="#dR" x="136"/><use id="k15-3" href="#dR" x="188"/><use id="k15-4" href="#dR" x="240"/><use id="k15-5" href="#dR" x="292"/><use id="k15-6" href="#dR" x="344"/><use id="k15-7" href="#dR" x="396"/><use id="k15-8" href="#aR" x="448"/><use id="k15-9" href="#dR" x="500"/><use id="k15-10" href="#dR" x="552"/><use id="k15-11" href="#dR" x="604"/><use id="k15-12" href="#dR" x="656"/></g>
<g id="row16" transform="translate(0,842)"><use id="k16-1" href="#dL" x="84"/><use id="k16-2" href="#dL" x="136"/><use id="k16-3" href="#dL" x="188"/><use id="k16-4" href="#dL" x="240"/><use id="k16-5" href="#dL" x="292"/><use id="k16-6" href="#dL" x="344"/><use id="k16-7" href="#aL" x="396"/><use id="k16-8" href="#aL" x="448"/><use id="k16-9" href="#aL" x="500"/><use id="k16-10" href="#dL" x="552"/><use id="k16-11" href="#dL" x="604"/><use id="k16-12" href="#dL" x="656"/></g>
<g id="row17" transform="translate(0,894)"><use id="k17-1" href="#dR" x="84"/><use id="k17-2" href="#dR" x="136"/><use id="k17-3" href="#dR" x="188"/><use id="k17-4" href="#dR" x="240"/><use id="k17-5" href="#dR" x="292"/><use id="k17-6" href="#dR" x="344"/><use id="k17-7" href="#aR" x="396"/><use id="k17-8" href="#aR" x="448"/><use id="k17-9" href="#aR" x="500"/><use id="k17-10" href="#dR" x="552"/><use id="k17-11" href="#dR" x="604"/><use id="k17-12" href="#dR" x="656"/></g>
<g id="row18" transform="translate(0,946)"><use id="k18-1" href="#dL" x="84"/><use id="k18-2" href="#dL" x="136"/><use id="k18-3" href="#aL" x="188"/><use id="k18-4" href="#dL" x="240"/><use id="k18-5" href="#dL" x="292"/><use id="k18-6" href="#dL" x="344"/><use id="k18-7" href="#aL" x="396"/><use id="k18-8" href="#aL" x="448"/><use id="k18-9" href="#aL" x="500"/><use id="k18-10" href="#dL" x="552"/><use id="k18-11" href="#dL" x="604"/><use id="k18-12" href="#dL" x="656"/></g>
<g id="row19" transform="translate(0,998)"><use id="k19-1" href="#dR" x="84"/><use id="k19-2" href="#dR" x="136"/><use id="k19-3" href="#dR" x="188"/><use id="k19-4" href="#aR" x="240"/><use id="k19-5" href="#aR" x="292"/><use id="k19-6" href="#dR" x="344"/><use id="k19-7" href="#dR" x="396"/><use id="k19-8" href="#aR" x="448"/><use id="k19-9" href="#dR" x="500"/><use id="k19-10" href="#dR" x="552"/><use id="k19-11" href="#dR" x="604"/><use id="k19-12" href="#dR" x="656"/></g>
<g id="row20" transform="translate(0,1050)"><use id="k20-1" href="#dL" x="84"/><use id="k20-2" href="#dL" x="136"/><use id="k20-3" href="#dL" x="188"/><use id="k20-4" href="#dL" x="240"/><use id="k20-5" href="#dL" x="292"/><use id="k20-6" href="#aL" x="344"/><use id="k20-7" href="#aL" x="396"/><use id="k20-8" href="#dL" x="448"/><use id="k20-9" href="#dL" x="500"/><use id="k20-10" href="#dL" x="552"/><use id="k20-11" href="#dL" x="604"/><use id="k20-12" href="#dL" x="656"/></g>
<g id="row21" transform="translate(0,1102)"><use id="k21-1" href="#dR" x="84"/><use id="k21-2" href="#dR" x="136"/><use id="k21-3" href="#dR" x="188"/><use id="k21-4" href="#dR" x="240"/><use id="k21-5" href="#dR" x="292"/><use id="k21-6" href="#dR" x="344"/><use id="k21-7" href="#dR" x="396"/><use id="k21-8" href="#bR" x="448"/><use id="k21-9" href="#bR" x="500"/><use id="k21-10" href="#dR" x="552"/><use id="k21-11" href="#dR" x="604"/><use id="k21-12" href="#dR" x="656"/></g>
<g id="row22" transform="translate(0,1154)"><use id="k22-1" href="#dL" x="84"/><use id="k22-2" href="#dL" x="136"/><use id="k22-3" href="#dL" x="188"/><use id="k22-4" href="#dL" x="240"/><use id="k22-5" href="#dL" x="292"/><use id="k22-6" href="#dL" x="344"/><use id="k22-7" href="#dL" x="396"/><use id="k22-8" href="#bL" x="448"/><use id="k22-9" href="#bL" x="500"/><use id="k22-10" href="#bL" x="552"/><use id="k22-11" href="#dL" x="604"/><use id="k22-12" href="#dL" x="656"/></g>
<g id="row23" transform="translate(0,1206)"><use id="k23-1" href="#dR" x="84"/><use id="k23-2" href="#dR" x="136"/><use id="k23-3" href="#dR" x="188"/><use id="k23-4" href="#dR" x="240"/><use id="k23-5" href="#dR" x="292"/><use id="k23-6" href="#dR" x="344"/><use id="k23-7" href="#dR" x="396"/><use id="k23-8" href="#dR" x="448"/><use id="k23-9" href="#bR" x="500"/><use id="k23-10" href="#bR" x="552"/><use id="k23-11" href="#bR" x="604"/><use id="k23-12" href="#dR" x="656"/></g>
<g id="row24" transform="translate(0,1258)"><use id="k24-1" href="#dL" x="84"/><use id="k24-2" href="#dL" x="136"/><use id="k24-3" href="#aL" x="188"/><use id="k24-4" href="#dL" x="240"/><use id="k24-5" href="#dL" x="292"/><use id="k24-6" href="#dL" x="344"/><use id="k24-7" href="#dL" x="396"/><use id="k24-8" href="#dL" x="448"/><use id="k24-9" href="#dL" x="500"/><use id="k24-10" href="#dL" x="552"/><use id="k24-11" href="#dL" x="604"/><use id="k24-12" href="#dL" x="656"/></g>
<g id="row25" transform="translate(0,1310)"><use id="k25-1" href="#dR" x="84"/><use id="k25-2" href="#dR" x="136"/><use id="k25-3" href="#dR" x="188"/><use id="k25-4" href="#dR" x="240"/><use id="k25-5" href="#dR" x="292"/><use id="k25-6" href="#dR" x="344"/><use id="k25-7" href="#dR" x="396"/><use id="k25-8" href="#dR" x="448"/><use id="k25-9" href="#dR" x="500"/><use id="k25-10" href="#dR" x="552"/><use id="k25-11" href="#dR" x="604"/><use id="k25-12" href="#dR" x="656"/></g>
<g id="row26" transform="translate(0,1362)"><use id="k26-1" href="#dL" x="84"/><use id="k26-2" href="#dL" x="136"/><use id="k26-3" href="#dL" x="188"/><use id="k26-4" href="#dL" x="240"/><use id="k26-5" href="#dL" x="292"/><use id="k26-6" href="#dL" x="344"/><use id="k26-7" href="#dL" x="396"/><use id="k26-8" href="#dL" x="448"/><use id="k26-9" href="#dL" x="500"/><use id="k26-10" href="#dL" x="552"/><use id="k26-11" href="#dL" x="604"/><use id="k26-12" href="#dL" x="656"/></g>
<g id="row27" transform="translate(0,1414)"><use id="k27-1" href="#dR" x="84"/><use id="k27-2" href="#dR" x="136"/><use id="k27-3" href="#dR" x="188"/><use id="k27-4" href="#dR" x="240"/><use id="k27-5" href="#bR" x="292"/><use id="k27-6" href="#bR" x="344"/><use id="k27-7" href="#bR" x="396"/><use id="k27-8" href="#dR" x="448"/><use id="k27-9" href="#dR" x="500"/><use id="k27-10" href="#dR" x="552"/><use id="k27-11" href="#dR" x="604"/><use id="k27-12" href="#dR" x="656"/></g>
<g id="row28" transform="translate(0,1466)"><use id="k28-1" href="#dL" x="84"/><use id="k28-2" href="#dL" x="136"/><use id="k28-3" href="#dL" x="188"/><use id="k28-4" href="#bL" x="240"/><use id="k28-5" href="#bL" x="292"/><use id="k28-6" href="#bL" x="344"/><use id="k28-7" href="#dL" x="396"/><use id="k28-8" href="#dL" x="448"/><use id="k28-9" href="#dL" x="500"/><use id="k28-10" href="#dL" x="552"/><use id="k28-11" href="#dL" x="604"/><use id="k28-12" href="#dL" x="656"/></g>
<g id="row29" transform="translate(0,1518)"><use id="k29-1" href="#dR" x="84"/><use id="k29-2" href="#dR" x="136"/><use id="k29-3" href="#dR" x="188"/><use id="k29-4" href="#bR" x="240"/><use id="k29-5" href="#bR" x="292"/><use id="k29-6" href="#dR" x="344"/><use id="k29-7" href="#dR" x="396"/><use id="k29-8" href="#dR" x="448"/><use id="k29-9" href="#dR" x="500"/><use id="k29-10" href="#dR" x="552"/><use id="k29-11" href="#dR" x="604"/><use id="k29-12" href="#dR" x="656"/></g>
<g id="row30" transform="translate(0,1570)"><use id="k30-1" href="#dL" x="84"/><use id="k30-2" href="#aL" x="136"/><use id="k30-3" href="#aL" x="188"/><use id="k30-4" href="#dL" x="240"/><use id="k30-5" href="#dL" x="292"/><use id="k30-6" href="#dL" x="344"/><use id="k30-7" href="#dL" x="396"/><use id="k30-8" href="#dL" x="448"/><use id="k30-9" href="#dL" x="500"/><use id="k30-10" href="#dL" x="552"/><use id="k30-11" href="#dL" x="604"/><use id="k30-12" href="#dL" x="656"/></g>
<g id="row31" transform="translate(0,1622)"><use id="k31-1" href="#aR" x="84"/><use id="k31-2" href="#dR" x="136"/><use id="k31-3" href="#dR" x="188"/><use id="k31-4" href="#dR" x="240"/><use id="k31-5" href="#dR" x="292"/><use id="k31-6" href="#dR" x="344"/><use id="k31-7" href="#dR" x="396"/><use id="k31-8" href="#dR" x="448"/><use id="k31-9" href="#dR" x="500"/><use id="k31-10" href="#dR" x="552"/><use id="k31-11" href="#dR" x="604"/><use id="k31-12" href="#dR" x="656"/></g>
<g id="row32" transform="translate(0,1674)"><use id="k32-1" href="#dL" x="84"/><use id="k32-2" href="#aL" x="136"/><use id="k32-3" href="#aL" x="188"/><use id="k32-4" href="#dL" x="240"/><use id="k32-5" href="#dL" x="292"/><use id="k32-6" href="#dL" x="344"/><use id="k32-7" href="#dL" x="396"/><use id="k32-8" href="#dL" x="448"/><use id="k32-9" href="#dL" x="500"/><use id="k32-10" href="#dL" x="552"/><use id="k32-11" href="#dL" x="604"/><use id="k32-12" href="#dL" x="656"/></g>
<g id="row33" transform="translate(0,1726)"><use id="k33-1" href="#dR" x="84"/><use id="k33-2" href="#aR" x="136"/><use id="k33-3" href="#aR" x="188"/><use id="k33-4" href="#aR" x="240"/><use id="k33-5" href="#dR" x="292"/><use id="k33-6" href="#dR" x="344"/><use id="k33-7" href="#dR" x="396"/><use id="k33-8" href="#dR" x="448"/><use id="k33-9" href="#dR" x="500"/><use id="k33-10" href="#dR" x="552"/><use id="k33-11" href="#bR" x="604"/><use id="k33-12" href="#dR" x="656"/></g>
<g id="row34" transform="translate(0,1778)"><use id="k34-1" href="#dL" x="84"/><use id="k34-2" href="#dL" x="136"/><use id="k34-3" href="#aL" x="188"/><use id="k34-4" href="#aL" x="240"/><use id="k34-5" href="#aL" x="292"/><use id="k34-6" href="#dL" x="344"/><use id="k34-7" href="#dL" x="396"/><use id="k34-8" href="#dL" x="448"/><use id="k34-9" href="#dL" x="500"/><use id="k34-10" href="#dL" x="552"/><use id="k34-11" href="#dL" x="604"/><use id="k34-12" href="#dL" x="656"/></g>
<g id="row35" transform="translate(0,1830)"><use id="k35-1" href="#dR" x="84"/><use id="k35-2" href="#dR" x="136"/><use id="k35-3" href="#dR" x="188"/><use id="k35-4" href="#dR" x="240"/><use id="k35-5" href="#dR" x="292"/><use id="k35-6" href="#dR" x="344"/><use id="k35-7" href="#dR" x="396"/><use id="k35-8" href="#dR" x="448"/><use id="k35-9" href="#dR" x="500"/><use id="k35-10" href="#dR" x="552"/><use id="k35-11" href="#dR" x="604"/><use id="k35-12" href="#dR" x="656"/></g>
<g id="row36" transform="translate(0,1882)"><use id="k36-1" href="#dL" x="84"/><use id="k36-2" href="#dL" x="136"/><use id="k36-3" href="#dL" x="188"/><use id="k36-4" href="#dL" x="240"/><use id="k36-5" href="#dL" x="292"/><use id="k36-6" href="#dL" x="344"/><use id="k36-7" href="#dL" x="396"/><use id="k36-8" href="#dL" x="448"/><use id="k36-9" href="#dL" x="500"/><use id="k36-10" href="#dL" x="552"/><use id="k36-11" href="#dL" x="604"/><use id="k36-12" href="#dL" x="656"/></g>
<g id="row37" transform="translate(0,1934)"><use id="k37-1" href="#dR" x="84"/><use id="k37-2" href="#dR" x="136"/><use id="k37-3" href="#dR" x="188"/><use id="k37-4" href="#dR" x="240"/><use id="k37-5" href="#dR" x="292"/><use id="k37-6" href="#dR" x="344"/><use id="k37-7" href="#dR" x="396"/><use id="k37-8" href="#dR" x="448"/><use id="k37-9" href="#dR" x="500"/><use id="k37-10" href="#dR" x="552"/><use id="k37-11" href="#dR" x="604"/><use id="k37-12" href="#dR" x="656"/></g>
<g id="row38" transform="translate(0,1986)"><use id="k38-1" href="#dL" x="84"/><use id="k38-2" href="#dL" x="136"/><use id="k38-3" href="#dL" x="188"/><use id="k38-4" href="#dL" x="240"/><use id="k38-5" href="#dL" x="292"/><use id="k38-6" href="#dL" x="344"/><use id="k38-7" href="#dL" x="396"/><use id="k38-8" href="#aL" x="448"/><use id="k38-9" href="#dL" x="500"/><use id="k38-10" href="#dL" x="552"/><use id="k38-11" href="#dL" x="604"/><use id="k38-12" href="#dL" x="656"/></g>
<g id="row39" transform="translate(0,2038)"><use id="k39-1" href="#dR" x="84"/><use id="k39-2" href="#dR" x="136"/><use id="k39-3" href="#dR" x="188"/><use id="k39-4" href="#dR" x="240"/><use id="k39-5" href="#dR" x="292"/><use id="k39-6" href="#dR" x="344"/><use id="k39-7" href="#aR" x="396"/><use id="k39-8" href="#aR" x="448"/><use id="k39-9" href="#aR" x="500"/><use id="k39-10" href="#dR" x="552"/><use id="k39-11" href="#dR" x="604"/><use id="k39-12" href="#dR" x="656"/></g>
<g id="row40" transform="translate(0,2090)"><use id="k40-1" href="#dL" x="84"/><use id="k40-2" href="#dL" x="136"/><use id="k40-3" href="#dL" x="188"/><use id="k40-4" href="#dL" x="240"/><use id="k40-5" href="#dL" x="292"/><use id="k40-6" href="#dL" x="344"/><use id="k40-7" href="#aL" x="396"/><use id="k40-8" href="#aL" x="448"/><use id="k40-9" href="#aL" x="500"/><use id="k40-10" href="#dL" x="552"/><use id="k40-11" href="#dL" x="604"/><use id="k40-12" href="#bL" x="656"/></g>
<g id="row41" transform="translate(0,2142)"><use id="k41-1" href="#dR" x="84"/><use id="k41-2" href="#dR" x="136"/><use id="k41-3" href="#dR" x="188"/><use id="k41-4" href="#dR" x="240"/><use id="k41-5" href="#dR" x="292"/><use id="k41-6" href="#dR" x="344"/><use id="k41-7" href="#aR" x="396"/><use id="k41-8" href="#aR" x="448"/><use id="k41-9" href="#aR" x="500"/><use id="k41-10" href="#dR" x="552"/><use id="k41-11" href="#bR" x="604"/><use id="k41-12" href="#bR" x="656"/></g>
<g id="row42" transform="translate(0,2194)"><use id="k42-1" href="#dL" x="84"/><use id="k42-2" href="#dL" x="136"/><use id="k42-3" href="#dL" x="188"/><use id="k42-4" href="#dL" x="240"/><use id="k42-5" href="#aL" x="292"/><use id="k42-6" href="#dL" x="344"/><use id="k42-7" href="#dL" x="396"/><use id="k42-8" href="#aL" x="448"/><use id="k42-9" href="#dL" x="500"/><use id="k42-10" href="#dL" x="552"/><use id="k42-11" href="#bL" x="604"/><use id="k42-12" href="#bL" x="656"/></g>
<g id="row43" transform="translate(0,2246)"><use id="k43-1" href="#dR" x="84"/><use id="k43-2" href="#dR" x="136"/><use id="k43-3" href="#dR" x="188"/><use id="k43-4" href="#dR" x="240"/><use id="k43-5" href="#dR" x="292"/><use id="k43-6" href="#aR" x="344"/><use id="k43-7" href="#aR" x="396"/><use id="k43-8" href="#dR" x="448"/><use id="k43-9" href="#dR" x="500"/><use id="k43-10" href="#aR" x="552"/><use id="k43-11" href="#dR" x="604"/><use id="k43-12" href="#dR" x="656"/></g>
<g id="row44" transform="translate(0,2298)"><use id="k44-1" href="#dL" x="84"/><use id="k44-2" href="#dL" x="136"/><use id="k44-3" href="#dL" x="188"/><use id="k44-4" href="#dL" x="240"/><use id="k44-5" href="#dL" x="292"/><use id="k44-6" href="#dL" x="344"/><use id="k44-7" href="#dL" x="396"/><use id="k44-8" href="#aL" x="448"/><use id="k44-9" href="#aL" x="500"/><use id="k44-10" href="#dL" x="552"/><use id="k44-11" href="#dL" x="604"/><use id="k44-12" href="#dL" x="656"/></g>
<g id="row45" transform="translate(0,2350)"><use id="k45-1" href="#dR" x="84"/><use id="k45-2" href="#dR" x="136"/><use id="k45-3" href="#dR" x="188"/><use id="k45-4" href="#dR" x="240"/><use id="k45-5" href="#dR" x="292"/><use id="k45-6" href="#dR" x="344"/><use id="k45-7" href="#dR" x="396"/><use id="k45-8" href="#dR" x="448"/><use id="k45-9" href="#dR" x="500"/><use id="k45-10" href="#aR" x="552"/><use id="k45-11" href="#aR" x="604"/><use id="k45-12" href="#dR" x="656"/></g>
<g id="row46" transform="translate(0,2402)"><use id="k46-1" href="#dL" x="84"/><use id="k46-2" href="#dL" x="136"/><use id="k46-3" href="#dL" x="188"/><use id="k46-4" href="#dL" x="240"/><use id="k46-5" href="#dL" x="292"/><use id="k46-6" href="#dL" x="344"/><use id="k46-7" href="#dL" x="396"/><use id="k46-8" href="#dL" x="448"/><use id="k46-9" href="#dL" x="500"/><use id="k46-10" href="#aL" x="552"/><use id="k46-11" href="#aL" x="604"/><use id="k46-12" href="#aL" x="656"/></g>
<g id="row47" transform="translate(0,2454)"><use id="k47-1" href="#dR" x="84"/><use id="k47-2" href="#dR" x="136"/><use id="k47-3" href="#bR" x="188"/><use id="k47-4" href="#dR" x="240"/><use id="k47-5" href="#dR" x="292"/><use id="k47-6" href="#dR" x="344"/><use id="k47-7" href="#dR" x="396"/><use id="k47-8" href="#dR" x="448"/><use id="k47-9" href="#dR" x="500"/><use id="k47-10" href="#dR" x="552"/><use id="k47-11" href="#aR" x="604"/><use id="k47-12" href="#aR" x="656"/></g>
<g id="row48" transform="translate(0,2506)"><use id="k48-1" href="#dL" x="84"/><use id="k48-2" href="#dL" x="136"/><use id="k48-3" href="#dL" x="188"/><use id="k48-4" href="#dL" x="240"/><use id="k48-5" href="#dL" x="292"/><use id="k48-6" href="#dL" x="344"/><use id="k48-7" href="#dL" x="396"/><use id="k48-8" href="#dL" x="448"/><use id="k48-9" href="#dL" x="500"/><use id="k48-10" href="#dL" x="552"/><use id="k48-11" href="#dL" x="604"/><use id="k48-12" href="#aL" x="656"/></g>
<g id="row49" transform="translate(0,2558)"><use id="k49-1" href="#dR" x="84"/><use id="k49-2" href="#dR" x="136"/><use id="k49-3" href="#dR" x="188"/><use id="k49-4" href="#dR" x="240"/><use id="k49-5" href="#dR" x="292"/><use id="k49-6" href="#dR" x="344"/><use id="k49-7" href="#dR" x="396"/><use id="k49-8" href="#dR" x="448"/><use id="k49-9" href="#dR" x="500"/><use id="k49-10" href="#dR" x="552"/><use id="k49-11" href="#dR" x="604"/><use id="k49-12" href="#dR" x="656"/></g>
<g id="row50" transform="translate(0,2610)"><use id="k50-1" href="#dL" x="84"/><use id="k50-2" href="#dL" x="136"/><use id="k50-3" href="#dL" x="188"/><use id="k50-4" href="#dL" x="240"/><use id="k50-5" href="#dL" x="292"/><use id="k50-6" href="#dL" x="344"/><use id="k50-7" href="#dL" x="396"/><use id="k50-8" href="#dL" x="448"/><use id="k50-9" href="#dL" x="500"/><use id="k50-10" href="#dL" x="552"/><use id="k50-11" href="#dL" x="604"/><use id="k50-12" href="#dL" x="656"/></g>
<g id="row51" transform="translate(0,2662)"><use id="k51-1" href="#dR" x="84"/><use id="k51-2" href="#dR" x="136"/><use id="k51-3" href="#dR" x="188"/><use id="k51-4" href="#dR" x="240"/><use id="k51-5" href="#dR" x="292"/><use id="k51-6" href="#bR" x="344"/><use id="k51-7" href="#bR" x="396"/><use id="k51-8" href="#bR" x="448"/><use id="k51-9" href="#dR" x="500"/><use id="k51-10" href="#dR" x="552"/><use id="k51-11" href="#dR" x="604"/><use id="k51-12" href="#dR" x="656"/></g>
<g id="row52" transform="translate(0,2714)"><use id="k52-1" href="#dL" x="84"/><use id="k52-2" href="#dL" x="136"/><use id="k52-3" href="#dL" x="188"/><use id="k52-4" href="#dL" x="240"/><use id="k52-5" href="#bL" x="292"/><use id="k52-6" href="#bL" x="344"/><use id="k52-7" href="#bL" x="396"/><use id="k52-8" href="#dL" x="448"/><use id="k52-9" href="#dL" x="500"/><use id="k52-10" href="#dL" x="552"/><use id="k52-11" href="#dL" x="604"/><use id="k52-12" href="#dL" x="656"/></g>
<g id="row53" transform="translate(0,2766)"><use id="k53-1" href="#aR" x="84"/><use id="k53-2" href="#dR" x="136"/><use id="k53-3" href="#dR" x="188"/><use id="k53-4" href="#dR" x="240"/><use id="k53-5" href="#bR" x="292"/><use id="k53-6" href="#bR" x="344"/><use id="k53-7" href="#dR" x="396"/><use id="k53-8" href="#dR" x="448"/><use id="k53-9" href="#dR" x="500"/><use id="k53-10" href="#dR" x="552"/><use id="k53-11" href="#dR" x="604"/><use id="k53-12" href="#dR" x="656"/></g>
<g id="row54" transform="translate(0,2818)"><use id="k54-1" href="#dL" x="84"/><use id="k54-2" href="#aL" x="136"/><use id="k54-3" href="#aL" x="188"/><use id="k54-4" href="#dL" x="240"/><use id="k54-5" href="#dL" x="292"/><use id="k54-6" href="#dL" x="344"/><use id="k54-7" href="#dL" x="396"/><use id="k54-8" href="#dL" x="448"/><use id="k54-9" href="#dL" x="500"/><use id="k54-10" href="#dL" x="552"/><use id="k54-11" href="#dL" x="604"/><use id="k54-12" href="#dL" x="656"/></g>
<g id="row55" transform="translate(0,2870)"><use id="k55-1" href="#dR" x="84"/><use id="k55-2" href="#aR" x="136"/><use id="k55-3" href="#aR" x="188"/><use id="k55-4" href="#aR" x="240"/><use id="k55-5" href="#dR" x="292"/><use id="k55-6" href="#dR" x="344"/><use id="k55-7" href="#dR" x="396"/><use id="k55-8" href="#dR" x="448"/><use id="k55-9" href="#dR" x="500"/><use id="k55-10" href="#dR" x="552"/><use id="k55-11" href="#dR" x="604"/><use id="k55-12" href="#dR" x="656"/></g>
<g id="row56" transform="translate(0,2922)"><use id="k56-1" href="#dL" x="84"/><use id="k56-2" href="#aL" x="136"/><use id="k56-3" href="#aL" x="188"/><use id="k56-4" href="#aL" x="240"/><use id="k56-5" href="#aL" x="292"/><use id="k56-6" href="#aL" x="344"/><use id="k56-7" href="#dL" x="396"/><use id="k56-8" href="#dL" x="448"/><use id="k56-9" href="#dL" x="500"/><use id="k56-10" href="#dL" x="552"/><use id="k56-11" href="#dL" x="604"/><use id="k56-12" href="#dL" x="656"/></g>
<g id="row57" transform="translate(0,2974)"><use id="k57-1" href="#dR" x="84"/><use id="k57-2" href="#aR" x="136"/><use id="k57-3" href="#aR" x="188"/><use id="k57-4" href="#dR" x="240"/><use id="k57-5" href="#dR" x="292"/><use id="k57-6" href="#dR" x="344"/><use id="k57-7" href="#dR" x="396"/><use id="k57-8" href="#dR" x="448"/><use id="k57-9" href="#dR" x="500"/><use id="k57-10" href="#dR" x="552"/><use id="k57-11" href="#dR" x="604"/><use id="k57-12" href="#dR" x="656"/></g>
<g id="row58" transform="translate(0,3026)"><use id="k58-1" href="#dL" x="84"/><use id="k58-2" href="#dL" x="136"/><use id="k58-3" href="#dL" x="188"/><use id="k58-4" href="#dL" x="240"/><use id="k58-5" href="#dL" x="292"/><use id="k58-6" href="#dL" x="344"/><use id="k58-7" href="#dL" x="396"/><use id="k58-8" href="#dL" x="448"/><use id="k58-9" href="#dL" x="500"/><use id="k58-10" href="#dL" x="552"/><use id="k58-11" href="#dL" x="604"/><use id="k58-12" href="#dL" x="656"/></g>
<g id="row59" transform="translate(0,3078)"><use id="k59-1" href="#dR" x="84"/><use id="k59-2" href="#dR" x="136"/><use id="k59-3" href="#dR" x="188"/><use id="k59-4" href="#dR" x="240"/><use id="k59-5" href="#dR" x="292"/><use id="k59-6" href="#dR" x="344"/><use id="k59-7" href="#dR" x="396"/><use id="k59-8" href="#dR" x="448"/><use id="k59-9" href="#aR" x="500"/><use id="k59-10" href="#dR" x="552"/><use id="k59-11" href="#dR" x="604"/><use id="k59-12" href="#dR" x="656"/></g>
<g id="row60" transform="translate(0,3130)"><use id="k60-1" href="#dL" x="84"/><use id="k60-2" href="#dL" x="136"/><use id="k60-3" href="#dL" x="188"/><use id="k60-4" href="#dL" x="240"/><use id="k60-5" href="#dL" x="292"/><use id="k60-6" href="#dL" x="344"/><use id="k60-7" href="#dL" x="396"/><use id="k60-8" href="#dL" x="448"/><use id="k60-9" href="#dL" x="500"/><use id="k60-10" href="#dL" x="552"/><use id="k60-11" href="#dL" x="604"/><use id="k60-12" href="#dL" x="656"/></g>
<g id="row61" transform="translate(0,3182)"><use id="k61-1" href="#dR" x="84"/><use id="k61-2" href="#dR" x="136"/><use id="k61-3" href="#dR" x="188"/><use id="k61-4" href="#dR" x="240"/><use id="k61-5" href="#dR" x="292"/><use id="k61-6" href="#dR" x="344"/><use id="k61-7" href="#dR" x="396"/><use id="k61-8" href="#dR" x="448"/><use id="k61-9" href="#dR" x="500"/><use id="k61-10" href="#dR" x="552"/><use id="k61-11" href="#dR" x="604"/><use id="k61-12" href="#dR" x="656"/></g>
<g id="row62" transform="translate(0,3234)"><use id="k62-1" href="#dL" x="84"/><use id="k62-2" href="#dL" x="136"/><use id="k62-3" href="#dL" x="188"/><use id="k62-4" href="#dL" x="240"/><use id="k62-5" href="#dL" x="292"/><use id="k62-6" href="#dL" x="344"/><use id="k62-7" href="#dL" x="396"/><use id="k62-8" href="#dL" x="448"/><use id="k62-9" href="#dL" x="500"/><use id="k62-10" href="#dL" x="552"/><use id="k62-11" href="#dL" x="604"/><use id="k62-12" href="#dL" x="656"/></g>
<g id="row63" transform="translate(0,3286)"><use id="k63-1" href="#dR" x="84"/><use id="k63-2" href="#dR" x="136"/><use id="k63-3" href="#dR" x="188"/><use id="k63-4" href="#dR" x="240"/><use id="k63-5" href="#dR" x="292"/><use id="k63-6" href="#dR" x="344"/><use id="k63-7" href="#bR" x="396"/><use id="k63-8" href="#bR" x="448"/><use id="k63-9" href="#dR" x="500"/><use id="k63-10" href="#dR" x="552"/><use id="k63-11" href="#dR" x="604"/><use id="k63-12" href="#aR" x="656"/></g>
<g id="row64" transform="translate(0,3338)"><use id="k64-1" href="#dL" x="84"/><use id="k64-2" href="#dL" x="136"/><use id="k64-3" href="#dL" x="188"/><use id="k64-4" href="#dL" x="240"/><use id="k64-5" href="#dL" x="292"/><use id="k64-6" href="#bL" x="344"/><use id="k64-7" href="#bL" x="396"/><use id="k64-8" href="#bL" x="448"/><use id="k64-9" href="#dL" x="500"/><use id="k64-10" href="#dL" x="552"/><use id="k64-11" href="#aL" x="604"/><use id="k64-12" href="#aL" x="656"/></g>
<g id="row65" transform="translate(0,3390)"><use id="k65-1" href="#dR" x="84"/><use id="k65-2" href="#dR" x="136"/><use id="k65-3" href="#dR" x="188"/><use id="k65-4" href="#dR" x="240"/><use id="k65-5" href="#dR" x="292"/><use id="k65-6" href="#bR" x="344"/><use id="k65-7" href="#bR" x="396"/><use id="k65-8" href="#bR" x="448"/><use id="k65-9" href="#dR" x="500"/><use id="k65-10" href="#dR" x="552"/><use id="k65-11" href="#aR" x="604"/><use id="k65-12" href="#aR" x="656"/></g>
<g id="row66" transform="translate(0,3442)"><use id="k66-1" href="#dL" x="84"/><use id="k66-2" href="#dL" x="136"/><use id="k66-3" href="#dL" x="188"/><use id="k66-4" href="#dL" x="240"/><use id="k66-5" href="#dL" x="292"/><use id="k66-6" href="#dL" x="344"/><use id="k66-7" href="#bL" x="396"/><use id="k66-8" href="#bL" x="448"/><use id="k66-9" href="#dL" x="500"/><use id="k66-10" href="#dL" x="552"/><use id="k66-11" href="#aL" x="604"/><use id="k66-12" href="#aL" x="656"/></g>
<g id="row67" transform="translate(0,3494)"><use id="k67-1" href="#dR" x="84"/><use id="k67-2" href="#dR" x="136"/><use id="k67-3" href="#dR" x="188"/><use id="k67-4" href="#dR" x="240"/><use id="k67-5" href="#aR" x="292"/><use id="k67-6" href="#aR" x="344"/><use id="k67-7" href="#bR" x="396"/><use id="k67-8" href="#dR" x="448"/><use id="k67-9" href="#dR" x="500"/><use id="k67-10" href="#dR" x="552"/><use id="k67-11" href="#dR" x="604"/><use id="k67-12" href="#dR" x="656"/></g>
<g id="row68" transform="translate(0,3546)"><use id="k68-1" href="#dL" x="84"/><use id="k68-2" href="#dL" x="136"/><use id="k68-3" href="#dL" x="188"/><use id="k68-4" href="#dL" x="240"/><use id="k68-5" href="#dL" x="292"/><use id="k68-6" href="#dL" x="344"/><use id="k68-7" href="#aL" x="396"/><use id="k68-8" href="#aL" x="448"/><use id="k68-9" href="#dL" x="500"/><use id="k68-10" href="#dL" x="552"/><use id="k68-11" href="#dL" x="604"/><use id="k68-12" href="#dL" x="656"/></g>
<g id="row69" transform="translate(0,3598)"><use id="k69-1" href="#dR" x="84"/><use id="k69-2" href="#bR" x="136"/><use id="k69-3" href="#dR" x="188"/><use id="k69-4" href="#dR" x="240"/><use id="k69-5" href="#dR" x="292"/><use id="k69-6" href="#dR" x="344"/><use id="k69-7" href="#dR" x="396"/><use id="k69-8" href="#dR" x="448"/><use id="k69-9" href="#aR" x="500"/><use id="k69-10" href="#aR" x="552"/><use id="k69-11" href="#dR" x="604"/><use id="k69-12" href="#dR" x="656"/></g>
<g id="row70" transform="translate(0,3650)"><use id="k70-1" href="#dL" x="84"/><use id="k70-2" href="#dL" x="136"/><use id="k70-3" href="#dL" x="188"/><use id="k70-4" href="#dL" x="240"/><use id="k70-5" href="#dL" x="292"/><use id="k70-6" href="#dL" x="344"/><use id="k70-7" href="#dL" x="396"/><use id="k70-8" href="#dL" x="448"/><use id="k70-9" href="#aL" x="500"/><use id="k70-10" href="#aL" x="552"/><use id="k70-11" href="#aL" x="604"/><use id="k70-12" href="#dL" x="656"/></g>
<g id="row71" transform="translate(0,3702)"><use id="k71-1" href="#dR" x="84"/><use id="k71-2" href="#dR" x="136"/><use id="k71-3" href="#dR" x="188"/><use id="k71-4" href="#dR" x="240"/><use id="k71-5" href="#dR" x="292"/><use id="k71-6" href="#dR" x="344"/><use id="k71-7" href="#dR" x="396"/><use id="k71-8" href="#dR" x="448"/><use id="k71-9" href="#dR" x="500"/><use id="k71-10" href="#aR" x="552"/><use id="k71-11" href="#aR" x="604"/><use id="k71-12" href="#aR" x="656"/></g>
<g id="row72" transform="translate(0,3754)"><use id="k72-1" href="#dL" x="84"/><use id="k72-2" href="#dL" x="136"/><use id="k72-3" href="#dL" x="188"/><use id="k72-4" href="#dL" x="240"/><use id="k72-5" href="#dL" x="292"/><use id="k72-6" href="#dL" x="344"/><use id="k72-7" href="#dL" x="396"/><use id="k72-8" href="#dL" x="448"/><use id="k72-9" href="#dL" x="500"/><use id="k72-10" href="#dL" x="552"/><use id="k72-11" href="#dL" x="604"/><use id="k72-12" href="#dL" x="656"/></g>
</g>
<text id="watermark" x="369.5" y="1913" class="wm" textLength="153" lengthAdjust="spacingAndGlyphs">BRACELETBOOK.COM</text>
</svg>
